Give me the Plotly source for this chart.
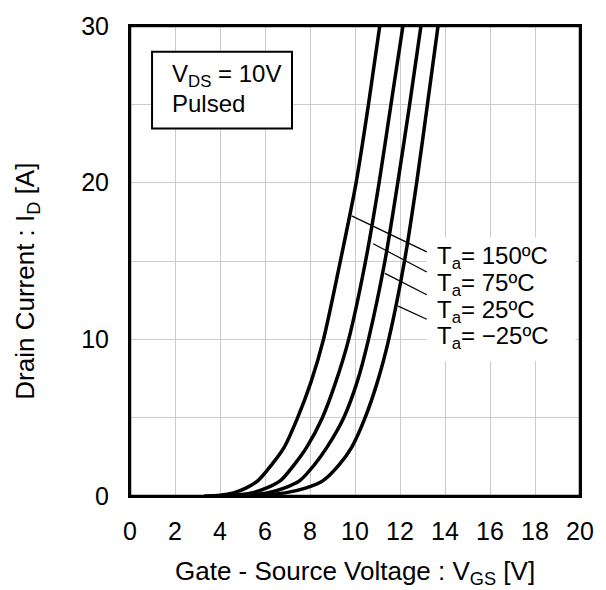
import plotly.graph_objects as go

# ---- data ----
current_a = [0, 0.05, 0.2, 0.5, 1.0, 2.0, 3.1, 5.0, 7.3, 10.0, 15.0, 20.0, 25.0, 30.0]
vgs_150 = [3.3, 4.0, 4.6, 5.15, 5.7, 6.3, 6.85, 7.45, 8.05, 8.6, 9.35, 10.05, 10.6, 11.1]
vgs_75 = [3.6, 4.6, 5.4, 6.05, 6.7, 7.3, 7.85, 8.55, 9.15, 9.72, 10.47, 11.07, 11.6, 12.13]
vgs_25 = [3.9, 5.1, 6.1, 6.85, 7.56, 8.2, 8.75, 9.5, 10.1, 10.6, 11.33, 11.9, 12.43, 12.93]
vgs_m25 = [4.2, 5.6, 6.9, 7.8, 8.6, 9.3, 9.85, 10.45, 11.0, 11.5, 12.2, 12.74, 13.22, 13.69]

series_labels = ["T<sub>a</sub>= 150ºC", "T<sub>a</sub>= 75ºC", "T<sub>a</sub>= 25ºC", "T<sub>a</sub>= −25ºC"]
label_y = [15.2, 13.5, 11.8, 10.1]
label_x = 13.56
leader_start = [(9.85, 17.88), (10.81, 16.1), (11.33, 14.21), (11.92, 12.12)]
leader_end = [(13.19, 15.58), (13.19, 14.3), (13.19, 12.85), (13.19, 11.28)]

x_ticks = list(range(0, 21, 2))
y_ticks = [0, 10, 20, 30]

FONT = "Liberation Sans, Arial, sans-serif"
FS_TICK = 25
FS_TITLE = 26
FS_NOTE = 24

fig = go.Figure()
for v in [vgs_150, vgs_75, vgs_25, vgs_m25]:
    fig.add_trace(go.Scatter(x=v, y=current_a, mode="lines",
                             line=dict(color="black", width=3.5, shape="spline", smoothing=0.8),
                             showlegend=False, hoverinfo="skip"))

shapes = []
# white background behind the temperature labels
shapes.append(dict(type="rect", xref="x", yref="y", x0=13.2, x1=19.8, y0=8.6, y1=16.5,
                   fillcolor="white", line=dict(width=0), layer="between"))
# condition box
shapes.append(dict(type="rect", xref="x", yref="y", x0=0.98, x1=7.2, y0=23.46, y1=28.36,
                   fillcolor="white", line=dict(color="black", width=2), layer="between"))
for (xs, ys), (xe, ye) in zip(leader_start, leader_end):
    shapes.append(dict(type="line", xref="x", yref="y", x0=xs, y0=ys, x1=xe, y1=ye,
                       line=dict(color="black", width=1.2), layer="above"))
# plot frame
shapes.append(dict(type="rect", xref="paper", yref="paper", x0=0, x1=1, y0=0, y1=1,
                   line=dict(color="black", width=2.5), fillcolor="rgba(0,0,0,0)", layer="above"))

annotations = []
for txt, yy in zip(series_labels, label_y):
    annotations.append(dict(x=label_x, y=yy, xref="x", yref="y", text=txt, showarrow=False,
                            xanchor="left", yanchor="middle",
                            font=dict(family=FONT, size=FS_NOTE, color="black")))
annotations.append(dict(x=1.78, y=26.86, xref="x", yref="y", text="V<sub>DS</sub> = 10V", showarrow=False,
                        xanchor="left", yanchor="middle", font=dict(family=FONT, size=FS_NOTE, color="black")))
annotations.append(dict(x=1.78, y=25.03, xref="x", yref="y", text="Pulsed", showarrow=False,
                        xanchor="left", yanchor="middle", font=dict(family=FONT, size=FS_NOTE, color="black")))
annotations.append(dict(x=0.5, y=-0.162, xref="paper", yref="paper",
                        text="Gate - Source Voltage : V<sub>GS</sub> [V]", showarrow=False,
                        xanchor="center", yanchor="middle", font=dict(family=FONT, size=FS_TITLE, color="black")))
annotations.append(dict(x=-0.229, y=0.458, xref="paper", yref="paper",
                        text="Drain Current : I<sub>D</sub> [A]", showarrow=False, textangle=-90,
                        xanchor="center", yanchor="middle", font=dict(family=FONT, size=FS_TITLE, color="black")))

fig.update_layout(
    width=606, height=590,
    margin=dict(l=130, r=26, t=20, b=94),
    plot_bgcolor="white", paper_bgcolor="white",
    shapes=shapes, annotations=annotations,
    showlegend=False,
    xaxis=dict(range=[0, 20], tickvals=x_ticks, ticktext=[str(t) for t in x_ticks],
               showgrid=True, gridcolor="#cccccc", gridwidth=1, zeroline=False,
               showline=True, linecolor="black", linewidth=2, mirror=True, ticks="",
               ticklabeloverflow="allow",
               ticklabelstandoff=12, tickfont=dict(family=FONT, size=FS_TICK, color="black")),
    yaxis=dict(range=[0, 30], tickvals=y_ticks, ticktext=[str(t) for t in y_ticks],
               showgrid=True, gridcolor="#cccccc", gridwidth=1, zeroline=False,
               minor=dict(dtick=5, tick0=0, showgrid=True, gridcolor="#cccccc", gridwidth=1),
               showline=True, linecolor="black", linewidth=2, mirror=True, ticks="",
               ticklabeloverflow="allow",
               ticklabelstandoff=14, tickfont=dict(family=FONT, size=FS_TICK, color="black")),
)

# remove the page's default body margin so the figure fills the window exactly
fig.write_html("out.html", config={"displayModeBar": False},
               post_script="document.body.style.margin='0';document.body.style.overflow='hidden';")
